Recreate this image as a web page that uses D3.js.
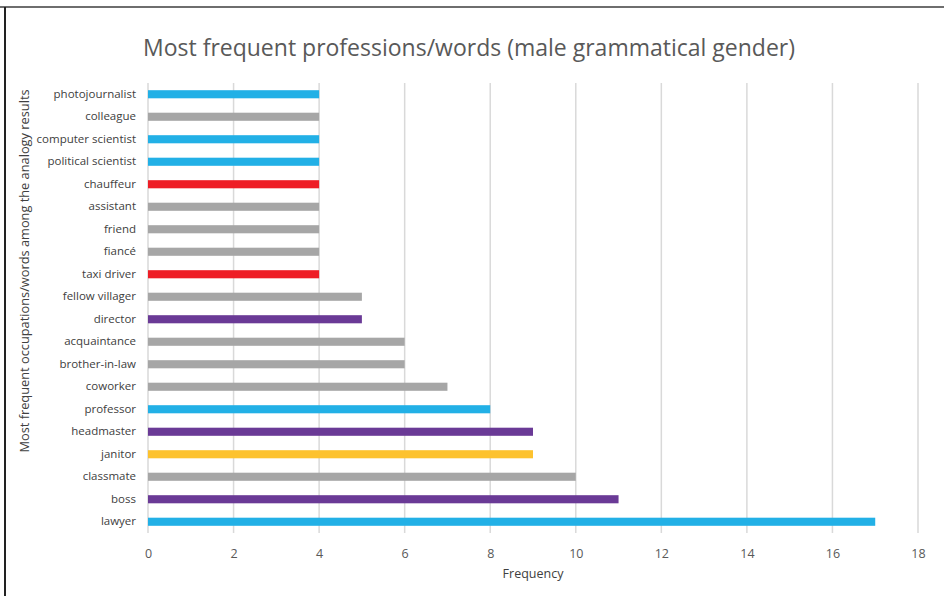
<!DOCTYPE html>
<html>
<head>
<meta charset="utf-8">
<script src="https://cdn.jsdelivr.net/npm/d3@7"></script>
<style>
  body { margin: 0; background: #fff; }
  svg { display: block; font-family: "Open Sans", sans-serif; }
</style>
</head>
<body>
<svg id="chart"></svg>
<script>
const categories = ["photojournalist", "colleague", "computer scientist", "political scientist", "chauffeur",
  "assistant", "friend", "fiancé", "taxi driver", "fellow villager", "director", "acquaintance",
  "brother-in-law", "coworker", "professor", "headmaster", "janitor", "classmate", "boss", "lawyer"]
const values = [4, 4, 4, 4, 4, 4, 4, 4, 4, 5, 5, 6, 6, 7, 8, 9, 9, 10, 11, 17]
const groups = ["blue", "gray", "blue", "blue", "red", "gray", "gray", "gray", "red", "gray",
  "purple", "gray", "gray", "gray", "blue", "purple", "yellow", "gray", "purple", "blue"]
const xTicks = [0, 2, 4, 6, 8, 10, 12, 14, 16, 18]

const W = 944, H = 596
const margins = { top: 83, bottom: 63, left: 148, right: 26 }

const groupColor = d3.scaleOrdinal()
  .domain(["blue", "gray", "red", "purple", "yellow"])
  .range(["#22b0e6", "#a6a6a6", "#ee1d26", "#6a3a96", "#fdc22e"])

const data = categories.map((c, i) => ({ name: c, value: values[i], group: groups[i] }))

const svg = d3.select("#chart").attr("width", W).attr("height", H)

// frame lines
svg.append("line").attr("x1", 0).attr("x2", W).attr("y1", 7).attr("y2", 7)
  .attr("stroke", "#6e6e6e").attr("stroke-width", 2)
svg.append("line").attr("x1", 5).attr("x2", 5).attr("y1", 7).attr("y2", H)
  .attr("stroke", "#222").attr("stroke-width", 2)

const x = d3.scaleLinear().domain([0, 18]).range([margins.left, W - margins.right])
const y = d3.scaleBand().domain(categories)
  .range([margins.top, H - margins.bottom]).paddingInner(0.64).paddingOuter(0.32)

// gridlines
svg.append("g").selectAll("line")
  .data(xTicks).enter().append("line")
  .attr("x1", d => x(d)).attr("x2", d => x(d))
  .attr("y1", margins.top).attr("y2", H - margins.bottom)
  .attr("stroke", "#d9d9d9").attr("stroke-width", 1.5)

// bars
svg.append("g").selectAll("rect")
  .data(data).enter().append("rect")
  .attr("x", x(0))
  .attr("y", d => y(d.name))
  .attr("width", d => x(d.value) - x(0))
  .attr("height", y.bandwidth())
  .attr("fill", d => groupColor(d.group))

// x axis
const xAxis = svg.append("g")
  .attr("transform", "translate(0," + (H - margins.bottom) + ")")
  .call(d3.axisBottom(x).tickValues(xTicks).tickSize(0).tickPadding(16))
xAxis.select(".domain").remove()
xAxis.selectAll("text").attr("font-size", "12.5px").attr("fill", "#595959")
  .attr("font-family", "Open Sans, sans-serif")

// y axis
const yAxis = svg.append("g")
  .attr("transform", "translate(" + (margins.left - 12) + ",0)")
  .call(d3.axisLeft(y).tickSize(0).tickPadding(0))
yAxis.select(".domain").remove()
yAxis.selectAll("text").attr("font-size", "11.5px").attr("fill", "#404040")
  .attr("font-family", "Open Sans, sans-serif")

// title
svg.append("text")
  .attr("x", 469).attr("y", 56)
  .attr("text-anchor", "middle")
  .attr("font-size", "23px")
  .attr("fill", "#595959")
  .text("Most frequent professions/words (male grammatical gender)")

// axis titles
svg.append("text")
  .attr("x", 533).attr("y", 578)
  .attr("text-anchor", "middle")
  .attr("font-size", "12.5px")
  .attr("fill", "#404040")
  .text("Frequency")

svg.append("text")
  .attr("transform", "translate(29," + 271 + ") rotate(-90)")
  .attr("text-anchor", "middle")
  .attr("font-size", "12.8px")
  .attr("fill", "#404040")
  .text("Most frequent occupations/words among the analogy results")
</script>
</body>
</html>
